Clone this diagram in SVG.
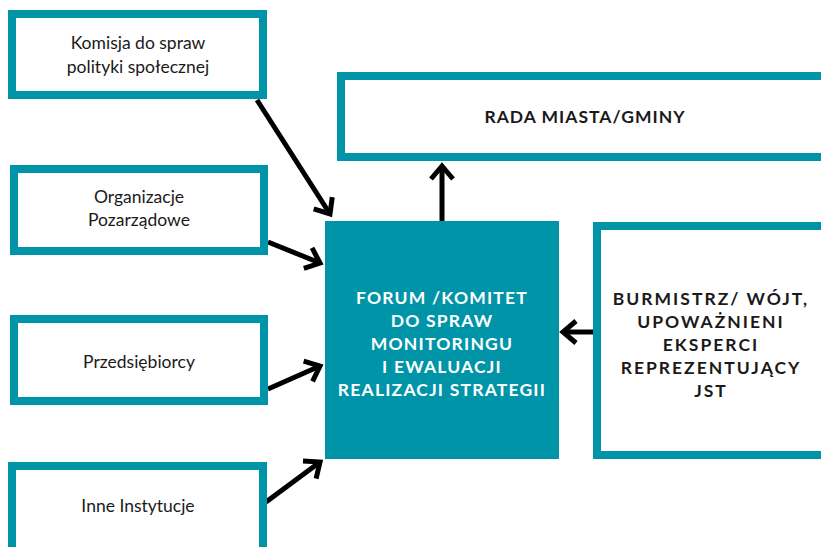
<svg xmlns="http://www.w3.org/2000/svg" width="821" height="547" viewBox="0 0 821 547">
<style>
.box{fill:#fff;stroke:#0094A8;stroke-width:8}
.lbl{font-family:Lato,"Open Sans","Liberation Sans",sans-serif;font-size:17.5px;fill:#1a1a1a;text-anchor:middle}
.cap{font-family:Lato,"Open Sans","Liberation Sans",sans-serif;font-size:17.5px;font-weight:bold;letter-spacing:1.2px;text-anchor:middle}
.wide{letter-spacing:2px}
.rada{letter-spacing:1px}
.conn{stroke:#000;stroke-width:5;fill:none}
</style>
<defs>
<marker id="ah" markerUnits="userSpaceOnUse" viewBox="-20 -15 25 30" refX="0" refY="0" markerWidth="25" markerHeight="30" orient="auto">
<path d="M-13,-11 L0,0 L-13,11" fill="none" stroke="#000" stroke-width="5" stroke-linecap="butt" stroke-linejoin="miter"/>
</marker>
</defs>
<rect width="821" height="547" fill="#fff"/>
<g id="connectors">
<line class="conn" x1="257" y1="100" x2="330" y2="214" marker-end="url(#ah)"/>
<line class="conn" x1="268" y1="242" x2="320" y2="263" marker-end="url(#ah)"/>
<line class="conn" x1="268" y1="389" x2="320" y2="366" marker-end="url(#ah)"/>
<line class="conn" x1="266" y1="502" x2="320" y2="462" marker-end="url(#ah)"/>
<line class="conn" x1="442" y1="221" x2="442" y2="166" marker-end="url(#ah)"/>
<line class="conn" x1="593" y1="332" x2="563" y2="332" marker-end="url(#ah)"/>
</g>
<g id="komisja">
<rect class="box" x="12" y="14" width="251" height="81"/>
<text class="lbl" x="138" y="49">Komisja do spraw</text>
<text class="lbl" x="138" y="73">polityki społecznej</text>
</g>
<g id="organizacje">
<rect class="box" x="14" y="169" width="250" height="82"/>
<text class="lbl" x="139" y="203">Organizacje</text>
<text class="lbl" x="139" y="226">Pozarządowe</text>
</g>
<g id="przedsiebiorcy">
<rect class="box" x="14" y="319" width="250" height="82"/>
<text class="lbl" x="139" y="368">Przedsiębiorcy</text>
</g>
<g id="inne">
<rect class="box" x="12" y="466" width="251" height="90"/>
<text class="lbl" x="138" y="512">Inne Instytucje</text>
</g>
<g id="rada">
<rect class="box" x="341" y="76" width="500" height="81"/>
<text class="cap rada" x="585" y="123" fill="#1a1a1a">RADA MIASTA/GMINY</text>
</g>
<g id="forum">
<rect x="325" y="221" width="234" height="238" fill="#0094A8"/>
<text class="cap" fill="#fff" x="442" y="304">FORUM /KOMITET</text>
<text class="cap" fill="#fff" x="442" y="327">DO SPRAW</text>
<text class="cap" fill="#fff" x="442" y="350">MONITORINGU</text>
<text class="cap" fill="#fff" x="442" y="373">I EWALUACJI</text>
<text class="cap" fill="#fff" x="442" y="396">REALIZACJI STRATEGII</text>
</g>
<g id="burmistrz">
<rect class="box" x="597" y="226" width="240" height="229"/>
<text class="cap wide" fill="#1a1a1a" x="711" y="305">BURMISTRZ/ WÓJT,</text>
<text class="cap wide" fill="#1a1a1a" x="711" y="328">UPOWAŻNIENI</text>
<text class="cap wide" fill="#1a1a1a" x="711" y="351">EKSPERCI</text>
<text class="cap wide" fill="#1a1a1a" x="711" y="374">REPREZENTUJĄCY</text>
<text class="cap wide" fill="#1a1a1a" x="711" y="397">JST</text>
</g>
</svg>
